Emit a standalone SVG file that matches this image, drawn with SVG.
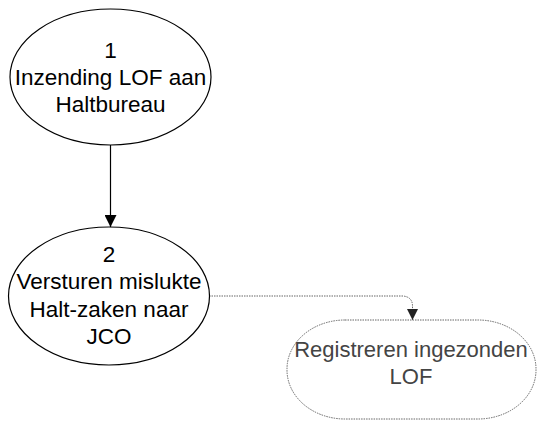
<svg xmlns="http://www.w3.org/2000/svg" width="538" height="421" viewBox="0 0 538 421">
  <style>
    .node { fill: #ffffff; stroke: #000000; stroke-width: 1.2; }
    .ext { fill: #ffffff; stroke: #666666; stroke-width: 1; stroke-dasharray: 1.5 1; }
    .lbl { font-family: "Liberation Sans", Arial, sans-serif; font-size: 22.5px; fill: #000000; text-anchor: middle; }
    .lblx { font-family: "Liberation Sans", Arial, sans-serif; font-size: 22px; fill: #444444; text-anchor: middle; }
    .solid { fill: none; stroke: #000000; stroke-width: 1.2; }
    .dotted { fill: none; stroke: #666666; stroke-width: 1; stroke-dasharray: 1.5 1; }
  </style>
  <defs>
    <marker id="arrowBlack" viewBox="0 0 12 12" refX="12" refY="6" markerWidth="12" markerHeight="12" markerUnits="userSpaceOnUse" orient="auto">
      <path d="M0,0 L12,6 L0,12 Z" fill="#000000"/>
    </marker>
    <marker id="arrowGray" viewBox="0 0 12 12" refX="12" refY="6" markerWidth="12" markerHeight="11" markerUnits="userSpaceOnUse" orient="auto">
      <path d="M0,0 L12,6 L0,12 Z" fill="#222222"/>
    </marker>
  </defs>

  <g id="connectors">
    <path class="solid" d="M110.5,145 L110.5,227" marker-end="url(#arrowBlack)"/>
    <path class="dotted" d="M209,296 L403,296 Q412.5,297 412.5,306 L412.5,320" marker-end="url(#arrowGray)"/>
  </g>

  <g id="node1">
    <ellipse class="node" cx="110.5" cy="77" rx="100.5" ry="68"/>
    <text class="lbl" x="110.5" y="58">1</text>
    <text class="lbl" x="110.5" y="85">Inzending LOF aan</text>
    <text class="lbl" x="110.5" y="112">Haltbureau</text>
  </g>

  <g id="node2">
    <ellipse class="node" cx="109" cy="296" rx="100.5" ry="69"/>
    <text class="lbl" x="109" y="262">2</text>
    <text class="lbl" x="109" y="289">Versturen mislukte</text>
    <text class="lbl" x="109" y="317">Halt-zaken naar</text>
    <text class="lbl" x="109" y="344">JCO</text>
  </g>

  <g id="node3">
    <rect class="ext" x="287" y="320" width="249" height="99" rx="58" ry="49"/>
    <text class="lblx" x="411" y="357">Registreren ingezonden</text>
    <text class="lblx" x="411" y="384">LOF</text>
  </g>
</svg>
